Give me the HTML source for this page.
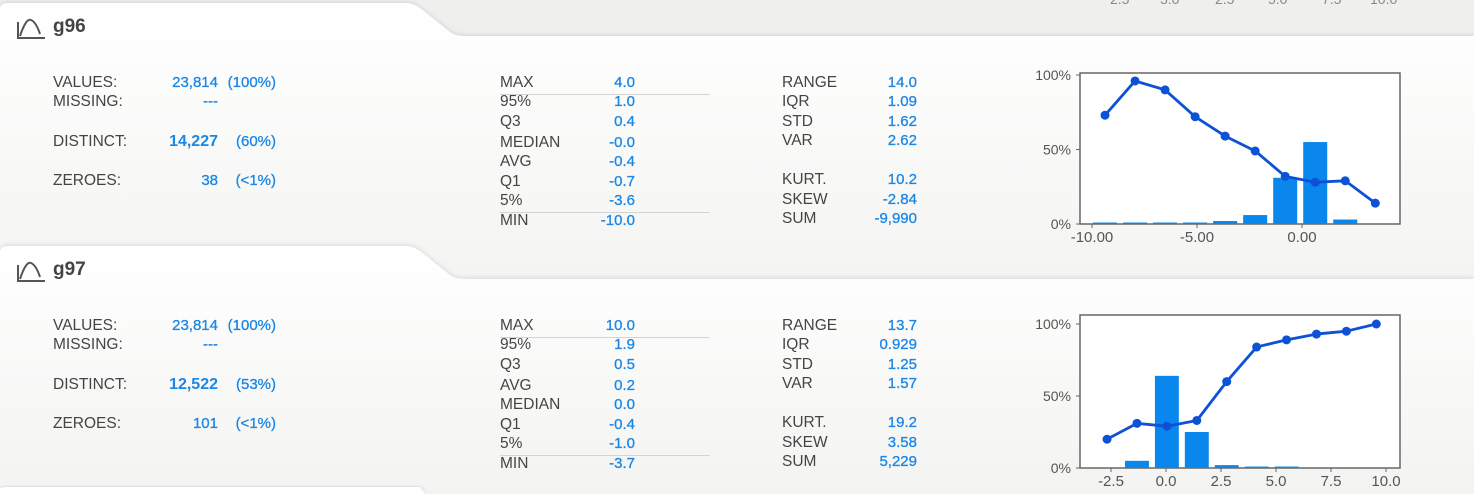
<!DOCTYPE html>
<html><head><meta charset="utf-8">
<style>
body{margin:0;width:1474px;height:494px;overflow:hidden;background:#efefed;font-family:"Liberation Sans",sans-serif;position:relative}
.t{position:absolute;font-size:15.5px;color:#444;white-space:nowrap;line-height:16px}
.v{position:absolute;font-size:15px;color:#1a87e6;white-space:nowrap;line-height:16px;text-align:right;-webkit-text-stroke:0.3px #1a87e6}
.b{font-weight:bold;font-size:16px;-webkit-text-stroke:0}
.ttl{position:absolute;font-size:19px;font-weight:bold;color:#444;line-height:20px}
.hr{position:absolute;height:1px;background:#d4d4d2;width:210px;left:500px}
#bg{position:absolute;left:0;top:0}
</style></head><body>
<svg id="bg" width="1474" height="494">
<defs>
<linearGradient id="cg" x1="0" y1="0" x2="0" y2="1"><stop offset="0" stop-color="#ffffff"/><stop offset="1" stop-color="#f3f3f1"/></linearGradient>
<filter id="sh" x="-5%" y="-20%" width="110%" height="140%"><feDropShadow dx="0" dy="-1" stdDeviation="2" flood-color="#000" flood-opacity="0.12"/></filter>
</defs>
<g fill="#888" font-size="14" font-family="Liberation Sans">
<text x="1110" y="4">2.5</text><text x="1160" y="4">5.0</text><text x="1215" y="4">2.5</text><text x="1268" y="4">5.0</text><text x="1322" y="4">7.5</text><text x="1370" y="4">10.0</text>
</g>
<path filter="url(#sh)" fill="url(#cg)" d="M0,10 Q0,3 8,3 L405,3 Q415,3 425,12 L450,32 Q455,36 465,36 L1474,36 L1474,300 L0,300 Z"/>
<path filter="url(#sh)" fill="url(#cg)" d="M0,253 Q0,246 8,246 L405,246 Q415,246 425,255 L450,275 Q455,279 465,279 L1474,279 L1474,494 L0,494 Z"/>
<path filter="url(#sh)" fill="#fff" d="M0,494 L0,490 Q0,487 8,487 L420,487 L425,494 Z"/>
<g stroke="#555" stroke-width="2" fill="none">
<path d="M18,22 L18,38 L45,38 M20,36 Q26,18 31,20 Q36,22 40,34"/>
<path d="M18,265 L18,281 L45,281 M20,279 Q26,261 31,263 Q36,265 40,277"/>
</g>
<g id="charts"></g>
</svg>

<div class="ttl" style="left:53px;top:17px">g96</div>
<div class="ttl" style="left:53px;top:260px">g97</div>

<div id="stats"></div>

<script>
const cards=[
 {dy:0,values:"23,814",vp:"(100%)",missing:"---",distinct:"14,227",dp:"(60%)",zeroes:"38",zp:"(<1%)",
  mid:[["MAX","4.0"],["95%","1.0"],["Q3","0.4"],["MEDIAN","-0.0"],["AVG","-0.4"],["Q1","-0.7"],["5%","-3.6"],["MIN","-10.0"]],
  right:[["RANGE","14.0"],["IQR","1.09"],["STD","1.62"],["VAR","2.62"],["KURT.","10.2"],["SKEW","-2.84"],["SUM","-9,990"]]},
 {dy:243,values:"23,814",vp:"(100%)",missing:"---",distinct:"12,522",dp:"(53%)",zeroes:"101",zp:"(<1%)",
  mid:[["MAX","10.0"],["95%","1.9"],["Q3","0.5"],["AVG","0.2"],["MEDIAN","0.0"],["Q1","-0.4"],["5%","-1.0"],["MIN","-3.7"]],
  right:[["RANGE","13.7"],["IQR","0.929"],["STD","1.25"],["VAR","1.57"],["KURT.","19.2"],["SKEW","3.58"],["SUM","5,229"]]}
];
const st=document.getElementById('stats');
function add(cls,txt,l,t,w,name){
  const d=document.createElement('div');d.className=cls;d.textContent=txt;
  d.style.top=t+'px';
  if(w){d.style.left=(l-w)+'px';d.style.width=w+'px';}else d.style.left=l+'px';
  
  
  st.appendChild(d);return d;
}
const midY=[75,94,114,135,154,174,193,213];
const rY=[75,94,114,133,172,192,211];
cards.forEach((c,ci)=>{
  const o=c.dy;
  add('t','VALUES:',53,75+o,0,'values-label');
  add('v',c.values,218,75+o,80,'values-count');
  add('v',c.vp,276,75+o,60,'values-pct');
  add('t','MISSING:',53,94+o,0,'missing-label');
  add('v',c.missing,218,94+o,80,'missing-value');
  add('t','DISTINCT:',53,134+o,0,'distinct-label');
  add('v b',c.distinct,218,134+o,80,'distinct-count');
  add('v',c.dp,276,134+o,60,'distinct-pct');
  add('t','ZEROES:',53,173+o,0,'zeroes-label');
  add('v',c.zeroes,218,173+o,80,'zeroes-count');
  add('v',c.zp,276,173+o,60,'zeroes-pct');
  c.mid.forEach((r,i)=>{add('t',r[0],500,midY[i]+o,0,'stat-label');add('v',r[1],635,midY[i]+o,80,'stat-value');});
  c.right.forEach((r,i)=>{add('t',r[0],782,rY[i]+o,0,'stat-label');add('v',r[1],917,rY[i]+o,80,'stat-value');});
  const h1=document.createElement('div');h1.className='hr';h1.style.top=(94+o)+'px';
  
  
  st.appendChild(h1);
  const h2=document.createElement('div');h2.className='hr';h2.style.top=(212+o)+'px';
  
  
  st.appendChild(h2);
});

const g96Centers=[-9.38,-7.95,-6.52,-5.09,-3.66,-2.23,-0.8,0.63,2.06,3.49];
const g96Bars=[1,1,1,1,2,6,31,55,3,0];
const g96Line=[73,96,90,72,59,49,32,28,29,14];
const g96Ticks=[-10,-5,0];
const g96TickLabels=["-10.00","-5.00","0.00"];

const g97Centers=[-2.68,-1.32,0.04,1.4,2.76,4.12,5.48,6.84,8.2,9.56];
const g97Bars=[0,5,64,25,2,1,1,0,0,0];
const g97Line=[20,31,29,33,60,84,89,93,95,100];
const g97Ticks=[-2.5,0,2.5,5,7.5,10];
const g97TickLabels=["-2.5","0.0","2.5","5.0","7.5","10.0"];

const yTicks=[0,50,100];
const yTickLabels=["0%","50%","100%"];

const NS='http://www.w3.org/2000/svg';
const G=document.getElementById('charts');
function el(tag,attrs,parent){const e=document.createElementNS(NS,tag);for(const k in attrs)e.setAttribute(k,attrs[k]);(parent||G).appendChild(e);return e;}

function chart(cfg){
  const g=el('g',{});
  
  
  const X=v=>cfg.x0+(v-cfg.xz)*cfg.kx;
  const Y=v=>cfg.yb-(v/100)*(cfg.yb-cfg.yt);
  const r=el('rect',{x:1080,y:cfg.top,width:320,height:cfg.yb-cfg.top,fill:'#fff',stroke:'#666','stroke-width':1.5},g);
  
  
  const bw=cfg.kx*(cfg.centers[1]-cfg.centers[0])*0.8;
  cfg.bars.forEach((b,i)=>{
    if(b<=0)return;
    const rc=el('rect',{x:X(cfg.centers[i])-bw/2,y:Y(b),width:bw,height:cfg.yb-Y(b),fill:'#0a87ec'},g);
    
    
  });
  const pts=cfg.line.map((v,i)=>X(cfg.centers[i])+','+Y(v)).join(' ');
  const pl=el('polyline',{points:pts,fill:'none',stroke:'#0d52d6','stroke-width':2.8,'stroke-linejoin':'round'},g);
  
  
  cfg.line.forEach((v,i)=>{
    const c=el('circle',{cx:X(cfg.centers[i]),cy:Y(v),r:4.5,fill:'#0d52d6'},g);
    
    
  });
  yTicks.forEach((t,i)=>{
    el('line',{x1:1076,x2:1080,y1:Y(t),y2:Y(t),stroke:'#666'},g);
    const tx=el('text',{x:1071,y:Y(t)+5,'text-anchor':'end','font-size':14,fill:'#555','font-family':'Liberation Sans'},g);
    tx.textContent=yTickLabels[i];
    
    
  });
  cfg.ticks.forEach((t,i)=>{
    el('line',{x1:X(t),x2:X(t),y1:cfg.yb,y2:cfg.yb+4,stroke:'#666'},g);
    const tx=el('text',{x:X(t),y:cfg.yb+18,'text-anchor':'middle','font-size':15,fill:'#555','font-family':'Liberation Sans'},g);
    tx.textContent=cfg.tickLabels[i];
    
    
  });
}
chart({name:'g96-histogram',top:73,yt:75,yb:224,x0:1302,xz:0,kx:21,centers:g96Centers,bars:g96Bars,line:g96Line,ticks:g96Ticks,tickLabels:g96TickLabels});
chart({name:'g97-histogram',top:315,yt:324,yb:468,x0:1166,xz:0,kx:22,centers:g97Centers,bars:g97Bars,line:g97Line,ticks:g97Ticks,tickLabels:g97TickLabels});
</script>
</body></html>
